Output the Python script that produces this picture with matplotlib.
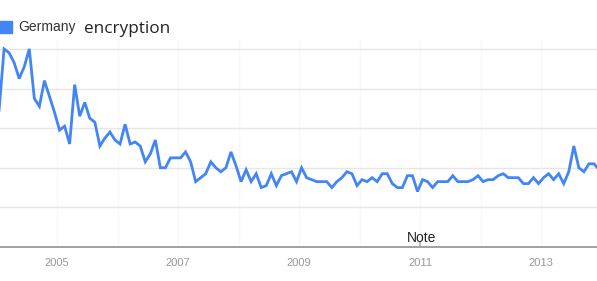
import matplotlib
matplotlib.use("Agg")
import matplotlib.pyplot as plt
import numpy as np

# monthly search interest, Jan 2004 onward (Google Trends style, 0-100)
interest = [69, 100, 98, 93, 85, 91, 100, 75, 71, 84, 76, 68,
            59, 61, 52, 82, 66, 73, 65, 63, 51, 55, 58, 54,
            52, 62, 52, 53, 51, 43, 47, 54, 40, 40, 45, 45,
            45, 48, 43, 33, 35, 37, 43, 40, 38, 40, 48, 41,
            33, 39, 33, 37, 30, 31, 37, 31, 36, 37, 38, 33,
            40, 35, 34, 33, 33, 33, 30, 33, 35, 38, 37, 31,
            34, 33, 35, 33, 37, 37, 32, 30, 30, 36, 36, 28,
            34, 33, 30, 33, 33, 33, 36, 33, 33, 33, 34, 36,
            33, 34, 34, 36, 37, 35, 35, 35, 32, 32, 35, 32,
            35, 37, 34, 37, 32, 38, 51, 40, 38, 42, 42, 39]
years = [2005, 2007, 2009, 2011, 2013]
series_name = "Germany"
query = "encryption"
note_year = 2011

blue = "#4285f4"

fig = plt.figure(figsize=(5.97, 2.81), dpi=100)
ax = fig.add_axes([0, 34 / 281, 1, 207 / 281])

t = np.arange(len(interest)) + 0.5  # months since Jan 2004, mid-month
ax.plot(t, interest, color=blue, lw=2.0, solid_joinstyle="miter", zorder=3)

ax.set_xlim(0.69, 119.1)
ax.set_ylim(0, 104.5)

for v in [20, 40, 60, 80, 100]:
    ax.axhline(v, color="#e6e6e6", lw=1, zorder=1)
for yr in range(2005, 2014):
    ax.axvline((yr - 2004) * 12, color="#f8f8f8", lw=1, zorder=0)

for s in ["top", "right", "left"]:
    ax.spines[s].set_visible(False)
ax.spines["bottom"].set_color("#9a9a9a")
ax.spines["bottom"].set_linewidth(1.3)

ax.set_yticks([])
ax.set_xticks([(y - 2004) * 12 for y in years])
ax.set_xticklabels([str(y) for y in years], color="#999999",
                   fontsize=8, family="Liberation Sans")
ax.tick_params(axis="x", length=0, pad=8)

# note marker
nx = (note_year - 2004) * 12
ax.plot([nx, nx], [0, 2.2], color="#aaaaaa", lw=1.2, clip_on=False, zorder=4)
ax.text(nx + 0.3, 2.6, "Note", ha="center", va="baseline", fontsize=10,
        color="#222222", family="Liberation Sans")

# legend-like header
fig.patches.append(plt.Rectangle((0, 1 - 33 / 281), 12 / 597, 12 / 281,
                                 transform=fig.transFigure, color=blue))
fig.text(18 / 597, 1 - 27.5 / 281, series_name, fontsize=10, color="#333333",
         va="center", ha="left", family="Liberation Sans")
fig.text(84 / 597, 1 - 29 / 281, query, fontsize=12.3, color="#222222",
         va="center", ha="left", family="Open Sans")

fig.savefig("out.png", dpi=100)
